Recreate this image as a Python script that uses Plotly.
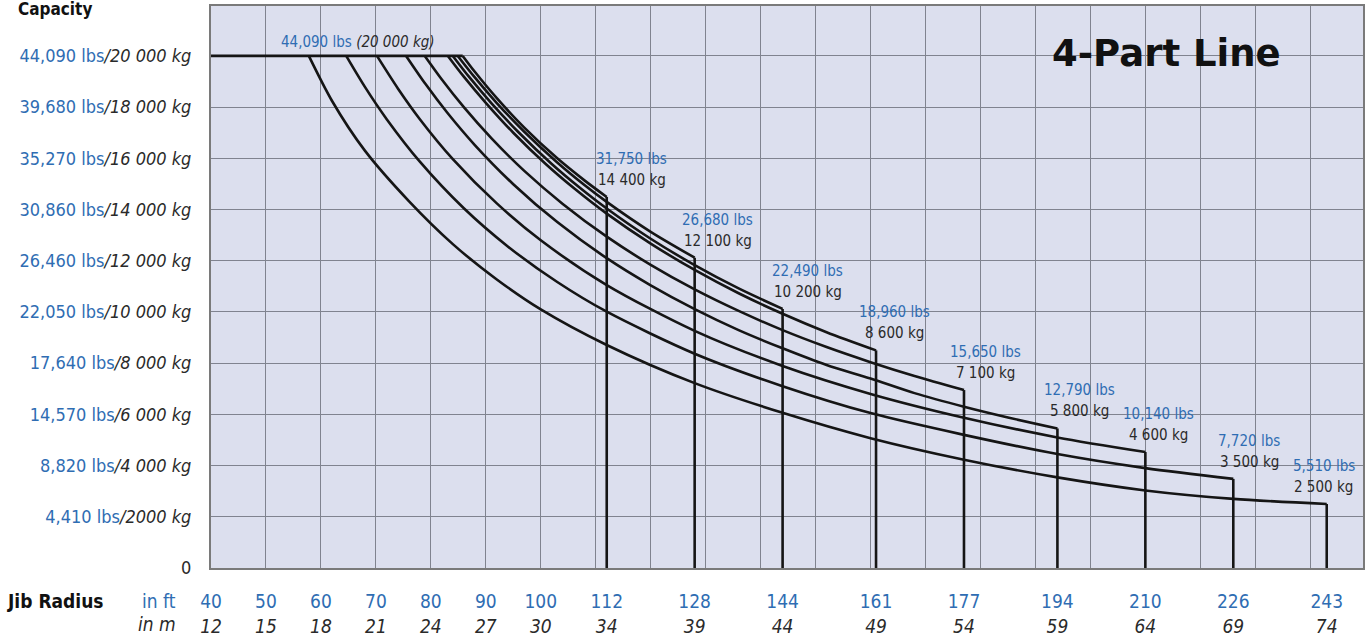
import plotly.graph_objects as go

# ---------------- data ----------------
jib_ft = [112, 128, 144, 161, 177, 194, 210, 226, 243]
tip_lbs = ["31,750 lbs", "26,680 lbs", "22,490 lbs", "18,960 lbs", "15,650 lbs",
           "12,790 lbs", "10,140 lbs", "7,720 lbs", "5,510 lbs"]
tip_kg = ["14 400 kg", "12 100 kg", "10 200 kg", "8 600 kg", "7 100 kg",
          "5 800 kg", "4 600 kg", "3 500 kg", "2 500 kg"]

max_cap_kg = 20000
start_ft = 40

radius_112 = [85.8, 88, 92, 97, 103, 108, 112]
cap_112 = [20000, 19380, 18350, 17200, 16000, 15130, 14490]

radius_128 = [84.9, 88, 92, 97, 103, 108, 112, 120, 128]
cap_128 = [20000, 19160, 18160, 17040, 15840, 14950, 14300, 13130, 12120]

radius_144 = [84.0, 87, 91, 96, 102, 107, 112, 120, 128, 136, 144]
cap_144 = [20000, 19170, 18160, 17010, 15780, 14870, 14040, 12860, 11830, 10920, 10120]

radius_161 = [83.1, 86, 90, 95, 101, 106, 112, 120, 128, 136, 144, 152, 161]
cap_161 = [20000, 19190, 18170, 17000, 15760, 14840, 13840, 12670, 11640, 10730, 9930, 9210, 8500]

radius_177 = [78.9, 82, 86, 91, 97, 104, 112, 120, 128, 136, 144, 152, 160, 168, 177]
cap_177 = [20000, 19080, 18000, 16790, 15510, 14220, 12940, 11840, 10880, 10040, 9290, 8630, 8040, 7500, 6950]

radius_194 = [75.5, 79, 83, 88, 95, 103, 112, 120, 128, 136, 144, 152, 160, 168, 177, 185, 194]
cap_194 = [20000, 18910, 17780, 16520, 14990, 13510, 12100, 11040, 10110, 9290, 8580, 7930, 7400, 6830, 6300, 5880, 5450]

radius_210 = [70.2, 74, 78, 84, 92, 100, 112, 128, 144, 160, 177, 194, 210]
cap_210 = [20000, 18730, 17530, 15970, 14240, 12800, 11050, 9260, 7890, 6800, 5870, 5100, 4530]

radius_226 = [64.6, 68, 72, 78, 86, 94, 103, 112, 128, 144, 160, 177, 194, 210, 226]
cap_226 = [20000, 18790, 17520, 15870, 14050, 12560, 11170, 10010, 8370, 7100, 6050, 5200, 4450, 3900, 3480]

radius_243 = [57.8, 62, 68, 76, 84, 92, 100, 112, 128, 144, 160, 177, 194, 210, 226, 243]
cap_243 = [20000, 18250, 16300, 14330, 12650, 11270, 10100, 8710, 7220, 6060, 5070, 4230, 3540, 3030, 2700, 2500]

x_tick_ft = [40, 50, 60, 70, 80, 90, 100, 112, 128, 144, 161, 177, 194, 210, 226, 243]
x_tick_m = [12, 15, 18, 21, 24, 27, 30, 34, 39, 44, 49, 54, 59, 64, 69, 74]

y_tick_kg = [0, 2000, 4000, 6000, 8000, 10000, 12000, 14000, 16000, 18000, 20000]
y_tick_lbs_text = ["", "4,410", "8,820", "14,570", "17,640", "22,050", "26,460",
                   "30,860", "35,270", "39,680", "44,090"]
y_tick_kg_text = ["0", "2000", "4 000", "6 000", "8 000", "10 000", "12 000",
                  "14 000", "16 000", "18 000", "20 000"]

# ---------------- style ----------------
BLUE = "#2f6db3"
DARK = "#2a2a2a"
LINE = "#151515"
GRID = "#80838f"
BG = "#dcdfee"
FONT = "'Liberation Sans Narrow', 'DejaVu Sans Condensed', 'Roboto Condensed', 'Arial Narrow', Roboto, 'Noto Sans', sans-serif"
label_dx = [25, 23, 25, 18, 22, 22, 13, 16, -3]

curves = [(radius_112, cap_112), (radius_128, cap_128), (radius_144, cap_144),
          (radius_161, cap_161), (radius_177, cap_177), (radius_194, cap_194),
          (radius_210, cap_210), (radius_226, cap_226), (radius_243, cap_243)]

fig = go.Figure()

# flat max-capacity line
knee_max = max(r[0] for r, _ in curves)
fig.add_trace(go.Scatter(x=[start_ft, knee_max], y=[max_cap_kg, max_cap_kg], mode="lines",
                         line=dict(color=LINE, width=2.8), showlegend=False, hoverinfo="skip",
                         cliponaxis=False))

for r, c in curves:
    fig.add_trace(go.Scatter(x=r, y=c, mode="lines",
                             line=dict(color=LINE, width=2.6, shape="spline", smoothing=0.8),
                             showlegend=False, hoverinfo="skip"))
    fig.add_trace(go.Scatter(x=[r[-1], r[-1]], y=[c[-1], 0], mode="lines",
                             line=dict(color=LINE, width=2.6), showlegend=False, hoverinfo="skip"))

# invisible trace to carry the labelled x axis
fig.add_trace(go.Scatter(x=x_tick_ft, y=[None] * len(x_tick_ft), xaxis="x2", mode="markers",
                         showlegend=False, hoverinfo="skip"))

annotations = []
for i, (r, c) in enumerate(curves):
    annotations.append(dict(x=r[-1], y=c[-1], xref="x", yref="y", text=tip_lbs[i], showarrow=False,
                            xanchor="center", yanchor="middle", xshift=label_dx[i], yshift=38,
                            font=dict(family=FONT, size=15, color=BLUE)))
    annotations.append(dict(x=r[-1], y=c[-1], xref="x", yref="y", text=tip_kg[i], showarrow=False,
                            xanchor="center", yanchor="middle", xshift=label_dx[i], yshift=17,
                            font=dict(family=FONT, size=15, color=DARK)))

annotations.append(dict(x=start_ft, y=max_cap_kg, xref="x", yref="y",
                        text=f"<span style='color:{BLUE}'>44,090 lbs</span> <i>(20 000 kg)</i>",
                        showarrow=False, xanchor="left", yanchor="middle", xshift=68, yshift=14,
                        font=dict(family=FONT, size=15, color=DARK)))
annotations.append(dict(x=0.829, y=0.916, xref="paper", yref="paper", text="<b>4-Part Line</b>",
                        showarrow=False, xanchor="center", yanchor="middle",
                        font=dict(family="'DejaVu Sans', sans-serif", size=37, color="#111111")))
annotations.append(dict(x=-0.135, y=0.994, xref="paper", yref="paper", text="<b>Capacity</b>",
                        showarrow=False, xanchor="center", yanchor="middle",
                        font=dict(family=FONT, size=17, color="#111111")))
annotations.append(dict(x=-0.135, y=-0.059, xref="paper", yref="paper", text="<b>Jib Radius</b>",
                        showarrow=False, xanchor="center", yanchor="middle",
                        font=dict(family=FONT, size=19, color="#111111")))
annotations.append(dict(x=-0.029, y=-0.059, xref="paper", yref="paper", text="in ft",
                        showarrow=False, xanchor="right", yanchor="middle",
                        font=dict(family=FONT, size=19, color=BLUE)))
annotations.append(dict(x=-0.029, y=-0.1, xref="paper", yref="paper", text="<i>in m</i>",
                        showarrow=False, xanchor="right", yanchor="middle",
                        font=dict(family=FONT, size=19, color=DARK)))

y_ticktext = []
for lbs, kg in zip(y_tick_lbs_text, y_tick_kg_text):
    if lbs:
        y_ticktext.append(f"<span style='color:{BLUE}'>{lbs} lbs</span><i>/{kg} kg</i>")
    else:
        y_ticktext.append(kg)

x_ticktext = [f"<span style='color:{BLUE}'>{f}</span><br><i>{m}</i>" for f, m in zip(x_tick_ft, x_tick_m)]

x_range = [40, 249.6]
fig.update_layout(
    width=1369, height=638,
    margin=dict(l=211, r=6, t=6, b=70, autoexpand=False),
    paper_bgcolor="white", plot_bgcolor=BG,
    font=dict(family=FONT, size=19, color=DARK),
    annotations=annotations,
    xaxis=dict(range=x_range, tick0=40, dtick=10, showgrid=True, gridcolor=GRID, gridwidth=1,
               showticklabels=False, ticks="", zeroline=False, showline=True, linecolor="#7a7a7a",
               linewidth=2, mirror=True),
    xaxis2=dict(range=x_range, overlaying="x", side="bottom", tickmode="array", tickvals=x_tick_ft,
                ticktext=x_ticktext, showgrid=False, zeroline=False, showline=False, ticks="",
                tickfont=dict(family=FONT, size=19, color=DARK), ticklabelstandoff=20),
    yaxis=dict(range=[0, 21950], tickmode="array", tickvals=y_tick_kg, ticktext=y_ticktext,
               showgrid=True, gridcolor=GRID, gridwidth=1, zeroline=False, showline=True,
               linecolor="#7a7a7a", linewidth=2, mirror=True, ticks="",
               tickfont=dict(family=FONT, size=18, color=DARK), ticklabelstandoff=14),
)

fig.write_html("out.html", config={"displayModeBar": False},
               post_script="document.body.style.margin='0';document.body.style.padding='0';")
